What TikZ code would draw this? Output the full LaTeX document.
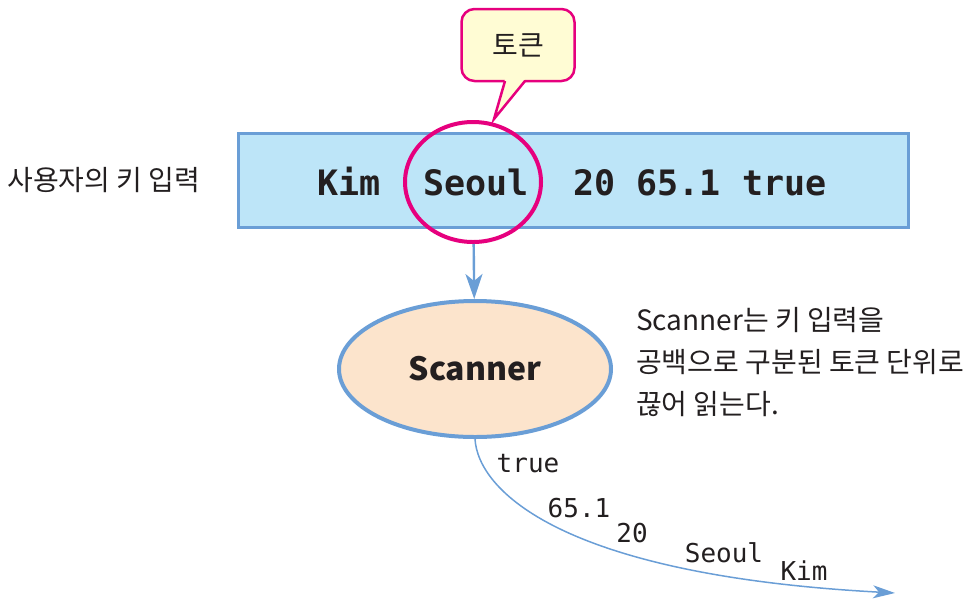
\documentclass[tikz,border=0pt]{standalone}
\usepackage{fontspec}
\newfontfamily\kr{Noto Sans CJK KR}
\newfontfamily\mono{DejaVu Sans Mono}
\usepackage{tikz}
\usetikzlibrary{arrows.meta}
\usetikzlibrary{shapes.geometric}
\usetikzlibrary{positioning, calc}
\definecolor{keyblue}{RGB}{189,229,248}
\definecolor{lineblue}{RGB}{106,158,214}
\definecolor{tokpink}{RGB}{230,0,126}
\definecolor{tokyellow}{RGB}{255,252,212}
\definecolor{scanpeach}{RGB}{252,228,204}
\definecolor{ink}{RGB}{35,31,32}

\begin{document}
\begin{tikzpicture}[x=1pt, y=-1pt, text=ink,
    inbox/.style={draw=lineblue, fill=keyblue, line width=3pt,
        minimum width=670pt, minimum height=94pt},
    inword/.style={anchor=base, inner sep=0pt,
        font=\mono\bfseries\fontsize{35}{40}\selectfont},
    outword/.style={inner sep=0pt, font=\mono\fontsize{26}{30}\selectfont},
    tokbox/.style={draw=tokpink, fill=tokyellow, line width=2.5pt,
        rounded corners=13pt, outer sep=0pt, minimum width=113pt,
        minimum height=72pt, font=\kr\fontsize{28}{30}\selectfont},
    scanbox/.style={ellipse, draw=lineblue, fill=scanpeach, line width=4pt,
        minimum width=272pt, minimum height=136pt,
        font=\kr\bfseries\fontsize{32}{36}\selectfont},
    krtext/.style={inner sep=0pt, align=left, font=\kr\fontsize{28}{42}\selectfont},
    flow/.style={draw=lineblue, line width=2.4pt,
        -{Stealth[length=25pt, width=17pt, inset=7pt]}},
    outflow/.style={draw=lineblue, line width=1.5pt,
        -{Stealth[length=22pt, width=13pt, inset=6pt]}}
]
\useasboundingbox (0,0) rectangle (969,598);

% key input line
\node[inbox] (keyin) at (573,180) {};
\node[inword] (kim) at (349,195) {Kim};
\node[inword] (seoul) at (476,195) {Seoul};
\node[inword] (rest) at (700,195) {20 65.1 true};
\node[krtext, left=36pt of keyin] (userkey) {사용자의 키 입력};

% one token
\node[ellipse, draw=tokpink, line width=4pt, minimum width=136pt,
    minimum height=120pt] (tokcirc) at (473,182) {};
\node[tokbox] (tok) at (518,45) {토큰};
\coordinate (tailtip) at (494,119);
\fill[tokyellow] ([xshift=-13pt, yshift=2pt]tok.south) -- (tailtip)
    -- ([xshift=7pt, yshift=2pt]tok.south) -- cycle;
\draw[tokpink, line width=2.5pt, line join=miter]
    ([xshift=-13pt]tok.south) -- (tailtip) -- ([xshift=7pt]tok.south);

% scanner
\node[scanbox] (scan) at (475,369) {Scanner};
\draw[flow] (tokcirc) -- (scan);
\node[krtext, anchor=north west] (note) at (636,307)
    {Scanner는 키 입력을\\공백으로 구분된 토큰 단위로\\끊어 읽는다.};

% tokens coming out
\coordinate (outend) at (895,593);
\draw[outflow] (scan.south) .. controls (478,490) and (560,575) .. (outend);
\foreach \t/\x/\y [count=\i] in {
    true/528/464, 65.1/579/508, 20/632/533, Seoul/724/553, Kim/804/571}
    \node[outword] (out\i) at (\x,\y) {\t};

\end{tikzpicture}
\end{document}
